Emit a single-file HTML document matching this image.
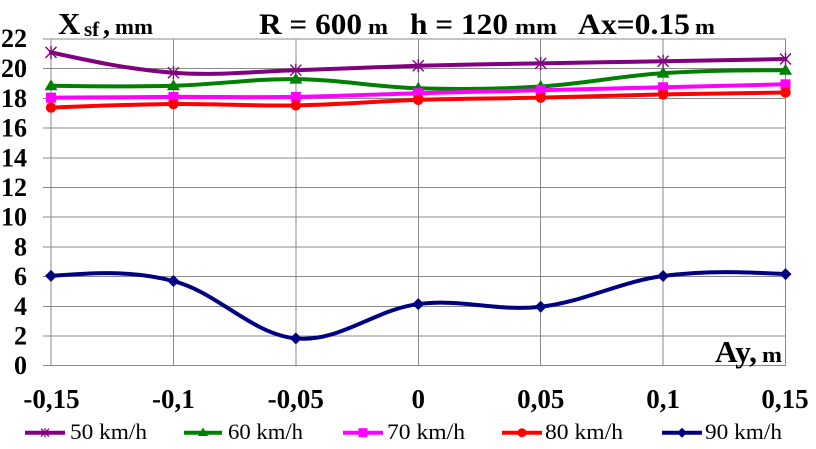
<!DOCTYPE html>
<html>
<head>
<meta charset="utf-8">
<style>
html,body{margin:0;padding:0;background:#fff;}
body{width:816px;height:449px;overflow:hidden;}
svg{display:block;}
</style>
</head>
<body>
<svg id="chart" width="816" height="449" viewBox="0 0 816 449" xmlns="http://www.w3.org/2000/svg">
<rect width="816" height="449" fill="#fff"/>
<g id="grid" stroke="#8a8a8a" stroke-width="1" shape-rendering="crispEdges">
  <line x1="43" y1="39" x2="786" y2="39"/>
  <line x1="43" y1="68.7" x2="786" y2="68.7"/>
  <line x1="43" y1="98.4" x2="786" y2="98.4"/>
  <line x1="43" y1="128.1" x2="786" y2="128.1"/>
  <line x1="43" y1="157.8" x2="786" y2="157.8"/>
  <line x1="43" y1="187.5" x2="786" y2="187.5"/>
  <line x1="43" y1="217.2" x2="786" y2="217.2"/>
  <line x1="43" y1="246.9" x2="786" y2="246.9"/>
  <line x1="43" y1="276.6" x2="786" y2="276.6"/>
  <line x1="43" y1="306.3" x2="786" y2="306.3"/>
  <line x1="43" y1="336" x2="786" y2="336"/>
  <line x1="43" y1="365.7" x2="786" y2="365.7"/>
  <line x1="51" y1="39" x2="51" y2="366"/>
  <line x1="173.4" y1="39" x2="173.4" y2="366"/>
  <line x1="295.8" y1="39" x2="295.8" y2="366"/>
  <line x1="418.3" y1="39" x2="418.3" y2="366"/>
  <line x1="540.7" y1="39" x2="540.7" y2="366"/>
  <line x1="663.1" y1="39" x2="663.1" y2="366"/>
  <line x1="785.5" y1="39" x2="785.5" y2="366"/>
</g>

<g font-family="'Liberation Serif', serif" font-weight="bold" font-size="26" fill="#000" text-anchor="end">
  <text x="27" y="47">22</text>
  <text x="27" y="77">20</text>
  <text x="27" y="107">18</text>
  <text x="27" y="136.5">16</text>
  <text x="27" y="166.3">14</text>
  <text x="27" y="196">12</text>
  <text x="27" y="225.7">10</text>
  <text x="27" y="255.4">8</text>
  <text x="27" y="285">6</text>
  <text x="27" y="314.8">4</text>
  <text x="27" y="344.5">2</text>
  <text x="27" y="374">0</text>
</g>

<g font-family="'Liberation Serif', serif" font-weight="bold" font-size="27" fill="#000" text-anchor="middle">
  <text x="51.5" y="408">-0,15</text>
  <text x="173.4" y="408">-0,1</text>
  <text x="295.8" y="408">-0,05</text>
  <text x="418.3" y="408">0</text>
  <text x="540.7" y="408">0,05</text>
  <text x="663.1" y="408">0,1</text>
  <text x="785" y="408">0,15</text>
</g>

<g font-family="'Liberation Serif', serif" font-weight="bold" fill="#000">
  <text x="58" y="34" font-size="31">X</text>
  <text x="84" y="36" font-size="21">sf</text>
  <text x="103" y="34" font-size="28">,</text>
  <text x="115" y="34" font-size="22" textLength="38" lengthAdjust="spacingAndGlyphs">mm</text>
  <text x="259" y="34" font-size="30" textLength="103" lengthAdjust="spacingAndGlyphs">R = 600</text>
  <text x="368" y="34" font-size="22" textLength="20" lengthAdjust="spacingAndGlyphs">m</text>
  <text x="410" y="34" font-size="30" textLength="98" lengthAdjust="spacingAndGlyphs">h = 120</text>
  <text x="515" y="34" font-size="22" textLength="42" lengthAdjust="spacingAndGlyphs">mm</text>
  <text x="578" y="34" font-size="30" textLength="112" lengthAdjust="spacingAndGlyphs">Ax=0.15</text>
  <text x="695" y="34" font-size="22" textLength="20" lengthAdjust="spacingAndGlyphs">m</text>
  <text x="715" y="362" font-size="31" textLength="42" lengthAdjust="spacingAndGlyphs">Ay,</text>
  <text x="762" y="362" font-size="22" textLength="20" lengthAdjust="spacingAndGlyphs">m</text>
</g>

<g id="series"></g>

<g id="legend">
  <line x1="25" y1="432.7" x2="65" y2="432.7" stroke="#800080" stroke-width="4"/>
  <g stroke="#800080" stroke-width="1.2">
    <line x1="41" y1="428.7" x2="49" y2="436.7"/><line x1="41" y1="436.7" x2="49" y2="428.7"/><line x1="45" y1="428" x2="45" y2="437.5"/>
  </g>
  <line x1="184" y1="432.7" x2="222" y2="432.7" stroke="#008000" stroke-width="4"/>
  <polygon points="203,427.5 208,436 198,436" fill="#008000"/>
  <line x1="343" y1="432.7" x2="383" y2="432.7" stroke="#FF00FF" stroke-width="4"/>
  <rect x="358.5" y="428.2" width="9" height="9" fill="#FF00FF"/>
  <line x1="502" y1="432.7" x2="542" y2="432.7" stroke="#FF0000" stroke-width="4"/>
  <circle cx="522" cy="432.7" r="4.5" fill="#FF0000"/>
  <line x1="662" y1="432.7" x2="702" y2="432.7" stroke="#000080" stroke-width="4"/>
  <polygon points="682,427.7 687,432.7 682,437.7 677,432.7" fill="#000080"/>
</g>
<g font-family="'Liberation Serif', serif" font-size="22" fill="#000">
  <text x="70" y="439" textLength="77" lengthAdjust="spacingAndGlyphs">50 km/h</text>
  <text x="228" y="439" textLength="75" lengthAdjust="spacingAndGlyphs">60 km/h</text>
  <text x="387" y="439" textLength="78" lengthAdjust="spacingAndGlyphs">70 km/h</text>
  <text x="545" y="439" textLength="78" lengthAdjust="spacingAndGlyphs">80 km/h</text>
  <text x="705" y="439" textLength="77" lengthAdjust="spacingAndGlyphs">90 km/h</text>
</g>
</svg>
<script>
(function(){
  var NS="http://www.w3.org/2000/svg";
  var g=document.getElementById("series");
  function X(i){return 51+i*122.42;}
  function Y(v){return 365.7-v*14.85;}
  var series=[
    {c:"#800080",m:"star",d:[21.1,19.73,19.9,20.2,20.36,20.5,20.65]},
    {c:"#008000",m:"tri",d:[18.85,18.85,19.3,18.68,18.8,19.7,19.9]},
    {c:"#FF00FF",m:"sq",d:[18.05,18.1,18.1,18.35,18.55,18.75,18.95]},
    {c:"#FF0000",m:"circ",d:[17.38,17.62,17.53,17.9,18.05,18.27,18.4]},
    {c:"#000080",m:"dia",d:[6.05,5.7,1.84,4.15,3.97,6.04,6.17]}
  ];
  var k=0.18;
  function f(n){return n.toFixed(2);}
  function mk(tag,attrs){var e=document.createElementNS(NS,tag);for(var a in attrs)e.setAttribute(a,attrs[a]);return e;}
  series.forEach(function(s){
    var p=s.d.map(function(v,i){return [X(i),Y(v)];});
    var n=p.length;
    var d="M"+f(p[0][0])+","+f(p[0][1]);
    for(var i=0;i<n-1;i++){
      var p0=p[i],p1=p[i+1],c1=null,c2=null;
      if(i>0){var pr=p[i-1];c1=[p0[0]+(p1[0]-pr[0])*k,p0[1]+(p1[1]-pr[1])*k];}
      if(i<n-2){var nx=p[i+2];c2=[p1[0]-(nx[0]-p0[0])*k,p1[1]-(nx[1]-p0[1])*k];}
      if(!c1&&c2){c1=[p0[0]+(c2[0]-p0[0])*0.5,p0[1]+(c2[1]-p0[1])*0.5];}
      if(!c2&&c1){c2=[p1[0]+(c1[0]-p1[0])*0.5,p1[1]+(c1[1]-p1[1])*0.5];}
      if(!c1&&!c2){c1=p0;c2=p1;}
      d+=" C"+f(c1[0])+","+f(c1[1])+" "+f(c2[0])+","+f(c2[1])+" "+f(p1[0])+","+f(p1[1]);
    }
    g.appendChild(mk("path",{d:d,fill:"none",stroke:s.c,"stroke-width":"4","stroke-linejoin":"round","stroke-linecap":"round"}));
    p.forEach(function(q){
      var x=q[0],y=q[1];
      if(s.m==="star"){
        var gg=mk("g",{stroke:s.c,"stroke-width":"1.4"});
        gg.appendChild(mk("line",{x1:x-5.5,y1:y-5.5,x2:x+5.5,y2:y+5.5}));
        gg.appendChild(mk("line",{x1:x-5.5,y1:y+5.5,x2:x+5.5,y2:y-5.5}));
        gg.appendChild(mk("line",{x1:x,y1:y-6.5,x2:x,y2:y+6.5}));
        g.appendChild(gg);
      }else if(s.m==="tri"){
        g.appendChild(mk("polygon",{points:f(x)+","+f(y-6.5)+" "+f(x+6.5)+","+f(y+4.5)+" "+f(x-6.5)+","+f(y+4.5),fill:s.c}));
      }else if(s.m==="sq"){
        g.appendChild(mk("rect",{x:x-5,y:y-5,width:10,height:10,fill:s.c}));
      }else if(s.m==="circ"){
        g.appendChild(mk("circle",{cx:x,cy:y,r:5.2,fill:s.c}));
      }else if(s.m==="dia"){
        g.appendChild(mk("polygon",{points:f(x)+","+f(y-6)+" "+f(x+6)+","+f(y)+" "+f(x)+","+f(y+6)+" "+f(x-6)+","+f(y),fill:s.c}));
      }
    });
  });
})();
</script>
</body>
</html>
